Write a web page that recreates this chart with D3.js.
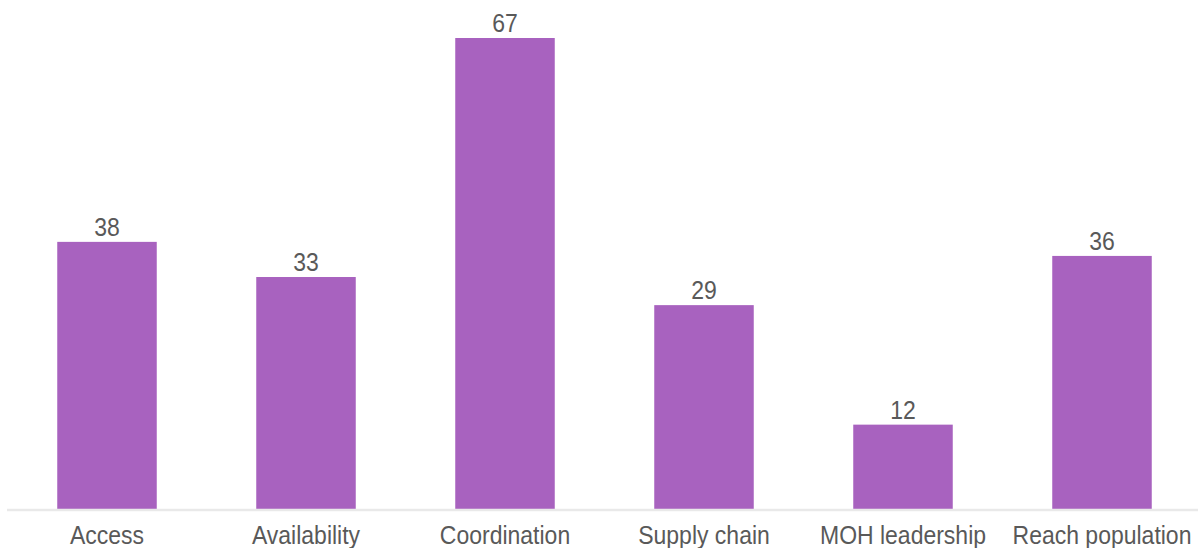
<!DOCTYPE html>
<html>
<head>
<meta charset="utf-8">
<script src="https://cdn.jsdelivr.net/npm/d3@7"></script>
<style>
  html, body { margin: 0; padding: 0; background: #ffffff; }
  svg { display: block; }
  text { font-family: "Liberation Sans", Arial, sans-serif; fill: #595959; }
</style>
</head>
<body>
<svg id="chart" width="1198" height="548"></svg>
<script>
// Categories and counts
const categories = ["Access", "Availability", "Coordination", "Supply chain", "MOH leadership", "Reach population"];
const values = [38, 33, 67, 29, 12, 36];

const barColor = "#a862bf";
const fontSize = 23;
const stretchY = 1.1;

const svg = d3.select("#chart");

const x = d3.scaleBand()
  .domain(categories)
  .range([7.5, 1201.5])
  .paddingInner(0.5)
  .paddingOuter(0.25);

const y = d3.scaleLinear()
  .domain([0, 67])
  .range([509, 38]);

const data = categories.map((c, i) => ({ category: c, value: values[i] }));

// Bars
svg.append("g")
  .selectAll("rect")
  .data(data)
  .join("rect")
  .attr("x", d => x(d.category))
  .attr("y", d => y(d.value))
  .attr("width", x.bandwidth())
  .attr("height", d => y(0) - y(d.value))
  .attr("fill", barColor);

// Baseline
svg.append("line")
  .attr("x1", 7)
  .attr("x2", 1198)
  .attr("y1", y(0) + 1)
  .attr("y2", y(0) + 1)
  .attr("stroke", "#e9e9e9")
  .attr("stroke-width", 2.5);

// Value labels above bars
svg.append("g")
  .selectAll("text")
  .data(data)
  .join("text")
  .attr("transform", d => `translate(${x(d.category) + x.bandwidth() / 2},${y(d.value) - 6}) scale(1,${stretchY})`)
  .attr("text-anchor", "middle")
  .attr("font-size", fontSize)
  .text(d => d.value);

// Category axis labels
const axis = d3.axisBottom(x).tickSize(0).tickPadding(0);
const gAxis = svg.append("g").attr("transform", `translate(0,${y(0)})`).call(axis);
gAxis.select(".domain").remove();
gAxis.selectAll(".tick text")
  .attr("y", null)
  .attr("dy", null)
  .attr("transform", `translate(0,35) scale(1,${stretchY})`)
  .attr("font-size", fontSize)
  .attr("font-family", "'Liberation Sans', Arial, sans-serif")
  .attr("fill", "#595959");
</script>
</body>
</html>
